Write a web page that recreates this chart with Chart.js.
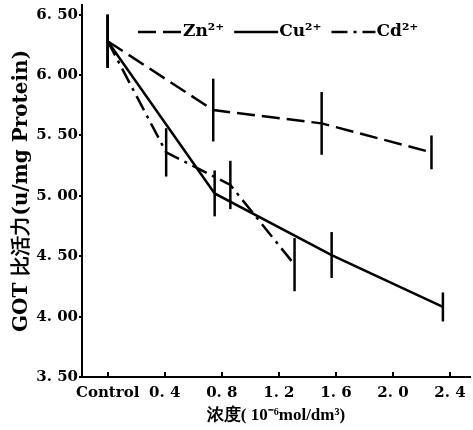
<!DOCTYPE html>
<html><head><meta charset="utf-8">
<script src="https://cdn.jsdelivr.net/npm/chart.js@4.4.1/dist/chart.umd.min.js"></script>
<style>html,body{margin:0;padding:0;background:#fff}#wrap{width:473px;height:430px}</style>
</head><body><div id="wrap"><canvas id="c" width="473" height="430"></canvas></div>
<script>
// ---- data ----
const seriesLabels = ['Zn²⁺', 'Cu²⁺', 'Cd²⁺'];
const concZn = [0, 0.74, 1.50, 2.27];
const actZn  = [6.28, 5.71, 5.60, 5.36];
const errZn  = [0.22, 0.26, 0.26, 0.14];
const concCu = [0, 0.75, 1.57, 2.35];
const actCu  = [6.28, 5.02, 4.51, 4.08];
const errCu  = [0.22, 0.19, 0.19, 0.12];
const concCd = [0, 0.41, 0.86, 1.31];
const actCd  = [6.28, 5.36, 5.09, 4.43];
const errCd  = [0.22, 0.20, 0.20, 0.22];
const xTickValues = [0, 0.4, 0.8, 1.2, 1.6, 2.0, 2.4];
const xTickLabels = ['Control', '0. 4', '0. 8', '1. 2', '1. 6', '2. 0', '2. 4'];
const yTickValues = [3.5, 4.0, 4.5, 5.0, 5.5, 6.0, 6.5];
const yTickLabels = ['3. 50', '4. 00', '4. 50', '5. 00', '5. 50', '6. 00', '6. 50'];
const xTitle = '浓度( 10⁻⁶mol/dm³)';
const yTitle = 'GOT 比活力(u/mg Protein)';

const toPts = (xs, ys) => xs.map((x, i) => ({x: x, y: ys[i]}));
const seriesConc = [concZn, concCu, concCd];
const seriesAct = [actZn, actCu, actCd];
const seriesErr = [errZn, errCu, errCd];
const dashes = [[18, 7], [], [16, 6, 3, 6]];

const datasets = seriesLabels.map((lab, k) => ({
  label: lab,
  data: toPts(seriesConc[k], seriesAct[k]),
  errors: seriesErr[k],
  borderColor: '#000',
  backgroundColor: 'rgba(0,0,0,0)',
  borderWidth: 2.5,
  borderDash: dashes[k],
  pointRadius: 0,
  tension: 0,
  fill: false
}));

const errorBars = {
  id: 'errorBars',
  afterDatasetsDraw(chart) {
    const ctx = chart.ctx, xs = chart.scales.x, ys = chart.scales.y;
    ctx.save();
    ctx.strokeStyle = '#000';
    ctx.lineWidth = 2.5;
    ctx.setLineDash([]);
    chart.data.datasets.forEach(ds => {
      ds.data.forEach((p, i) => {
        const e = ds.errors[i];
        const px = xs.getPixelForValue(p.x);
        ctx.beginPath();
        ctx.moveTo(px, ys.getPixelForValue(p.y + e));
        ctx.lineTo(px, ys.getPixelForValue(p.y - e));
        ctx.stroke();
      });
    });
    ctx.restore();
  }
};

const inlineLegend = {
  id: 'inlineLegend',
  afterDraw(chart, args, opts) {
    const ctx = chart.ctx;
    ctx.save();
    ctx.font = opts.font;
    ctx.fillStyle = '#000';
    ctx.strokeStyle = '#000';
    ctx.textBaseline = 'middle';
    let x = opts.x;
    const y = opts.y;
    chart.data.datasets.forEach(ds => {
      ctx.lineWidth = 2.5;
      ctx.setLineDash(ds.borderDash || []);
      ctx.beginPath();
      ctx.moveTo(x, y);
      ctx.lineTo(x + opts.lineLen, y);
      ctx.stroke();
      x += opts.lineLen + 1;
      ctx.fillText(ds.label, x, y);
      x += ctx.measureText(ds.label).width + opts.gap;
    });
    ctx.restore();
  }
};

const tickFont = {family: 'DejaVu Serif', weight: 'bold', size: 15};

new Chart(document.getElementById('c'), {
  type: 'line',
  data: {datasets: datasets},
  plugins: [errorBars, inlineLegend],
  options: {
    responsive: false,
    animation: false,
    devicePixelRatio: 1,
    layout: {padding: {left: 0, top: 5, right: 3, bottom: 0}},
    plugins: {
      legend: {display: false},
      tooltip: {enabled: false},
      inlineLegend: {x: 138, y: 32, lineLen: 44, gap: 10, font: 'bold 17px "DejaVu Serif"'}
    },
    scales: {
      x: {
        type: 'linear', min: -0.18, max: 2.54,
        afterBuildTicks: s => { s.ticks = xTickValues.map(v => ({value: v})); },
        ticks: {
          callback: v => xTickLabels[xTickValues.findIndex(t => Math.abs(t - v) < 1e-6)],
          font: tickFont, color: '#000', padding: 12, maxRotation: 0, autoSkip: false
        },
        grid: {drawOnChartArea: false, drawTicks: true, tickLength: -5, color: '#000', lineWidth: 2},
        border: {display: true, color: '#000', width: 2},
        title: {display: true, text: xTitle, color: '#000',
          font: {family: 'Liberation Serif', weight: 'bold', size: 17}, padding: {top: 0, bottom: 4}},
        afterFit: s => { s.height = 53; s.paddingLeft = 0; s.paddingRight = 0; }
      },
      y: {
        type: 'linear', min: 3.5, max: 6.58,
        afterBuildTicks: s => { s.ticks = yTickValues.map(v => ({value: v})); },
        ticks: {
          callback: v => yTickLabels[yTickValues.findIndex(t => Math.abs(t - v) < 1e-6)],
          font: tickFont, color: '#000', padding: 1
        },
        grid: {drawOnChartArea: false, drawTicks: true, tickLength: 3, color: '#000', lineWidth: 2},
        border: {display: true, color: '#000', width: 2},
        title: {display: true, text: yTitle, color: '#000',
          font: {family: 'DejaVu Serif', weight: 'bold', size: 20}, padding: {top: 10, bottom: 0}},
        afterFit: s => { s.width = 82; s.paddingTop = 0; s.paddingBottom = 0; }
      }
    }
  }
});
</script>
</body></html>
